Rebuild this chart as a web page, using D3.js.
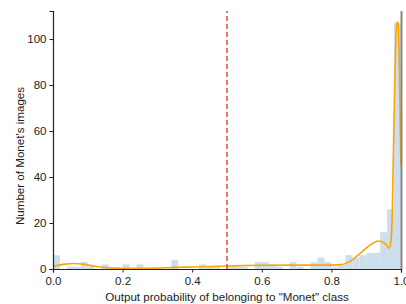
<!DOCTYPE html>
<html>
<head>
<meta charset="utf-8">
<script src="https://cdn.jsdelivr.net/npm/d3@7"></script>
<style>
  body { margin: 0; background: #fff; }
  text { font-family: "Liberation Sans", Arial, sans-serif; fill: #222; }
</style>
</head>
<body>
<div id="chart"></div>
<script>
// histogram counts, 50 bins of width 0.02 on [0, 1]
const binWidth = 0.02;
const counts = [
  6, 0, 1, 1, 3, 1, 0, 2, 0, 0,
  2, 0, 2, 0, 0, 0, 0, 4, 0, 0,
  0, 2, 1, 1, 0, 1, 1, 1, 0, 3,
  3, 2, 1, 0, 3, 1, 0, 3, 5, 3,
  1, 2, 6, 5, 6, 7, 7, 16, 26, 107
];
// density curve: [probability, count]
const kdeCurve = [
  [0, 1.2], [0.03, 2.0], [0.06, 2.4], [0.09, 2.0], [0.12, 1.2], [0.16, 0.5],
  [0.2, 0.3], [0.25, 0.3], [0.3, 0.4], [0.35, 0.7], [0.4, 0.9], [0.45, 1.1],
  [0.5, 1.3], [0.55, 1.5], [0.6, 1.6], [0.7, 1.7], [0.78, 1.7], [0.82, 1.8],
  [0.85, 3.0], [0.88, 6.5], [0.91, 10.3], [0.935, 12.2], [0.955, 11.0],
  [0.966, 9.0], [0.971, 12], [0.975, 25], [0.978, 50], [0.982, 80],
  [0.986, 103], [0.989, 107.5], [0.992, 106], [0.995, 90], [0.998, 60], [1.0, 45]
];
const threshold = 0.5;
const xTicks = [0, 0.2, 0.4, 0.6, 0.8, 1.0];
const yTicks = [0, 20, 40, 60, 80, 100];

const width = 406, height = 304;
const margin = {top: 11, right: 5, bottom: 35, left: 53};

const svg = d3.select('#chart').append('svg')
  .attr('width', width)
  .attr('height', height);

const x = d3.scaleLinear().domain([0, 1]).range([margin.left, width - margin.right]);
const y = d3.scaleLinear().domain([0, 112.2]).range([height - margin.bottom, margin.top]);

// bars
svg.append('g').selectAll('rect')
  .data(counts)
  .enter().append('rect')
  .attr('x', (d, i) => x(i * binWidth))
  .attr('width', (d, i) => x((i + 1) * binWidth) - x(i * binWidth))
  .attr('y', d => y(d))
  .attr('height', d => y(0) - y(d))
  .attr('fill', '#cddfec');

// density line
const line = d3.line()
  .x(d => x(d[0]))
  .y(d => y(d[1]))
  .curve(d3.curveMonotoneX);
svg.append('path')
  .datum(kdeCurve)
  .attr('d', line)
  .attr('fill', 'none')
  .attr('stroke', '#ffa500')
  .attr('stroke-width', 1.6);

// threshold line
svg.append('line')
  .attr('x1', x(threshold)).attr('x2', x(threshold))
  .attr('y1', y(0)).attr('y2', margin.top)
  .attr('stroke', '#ef4444')
  .attr('stroke-width', 1.5)
  .attr('stroke-dasharray', '5,3');

// right edge
svg.append('line')
  .attr('x1', x(1) + 0.5).attr('x2', x(1) + 0.5)
  .attr('y1', margin.top).attr('y2', y(0))
  .attr('stroke', '#888')
  .attr('stroke-width', 2);

// axes
const xAxis = svg.append('g')
  .attr('transform', `translate(0,${y(0)})`)
  .call(d3.axisBottom(x).tickValues(xTicks).tickFormat(d3.format('.1f')).tickSizeOuter(0).tickSize(3.5));
const yAxis = svg.append('g')
  .attr('transform', `translate(${margin.left},0)`)
  .call(d3.axisLeft(y).tickValues(yTicks).tickSizeOuter(0).tickSize(3.5));

[xAxis, yAxis].forEach(a => {
  a.select('.domain').attr('stroke', '#222').attr('stroke-width', 1.2);
  a.selectAll('.tick line').attr('stroke', '#222');
  a.selectAll('.tick text').attr('font-size', 11.5).attr('fill', '#222');
});
xAxis.selectAll('.tick text').attr('dy', '0.85em');

svg.append('text')
  .attr('x', (x(0) + x(1)) / 2)
  .attr('y', 301)
  .attr('text-anchor', 'middle')
  .attr('font-size', 11.6)
  .text('Output probability of belonging to "Monet" class');

svg.append('text')
  .attr('transform', `translate(24,${(y(0) + margin.top) / 2 + 16}) rotate(-90)`)
  .attr('text-anchor', 'middle')
  .attr('font-size', 11.6)
  .text("Number of Monet's images");
</script>
</body>
</html>
